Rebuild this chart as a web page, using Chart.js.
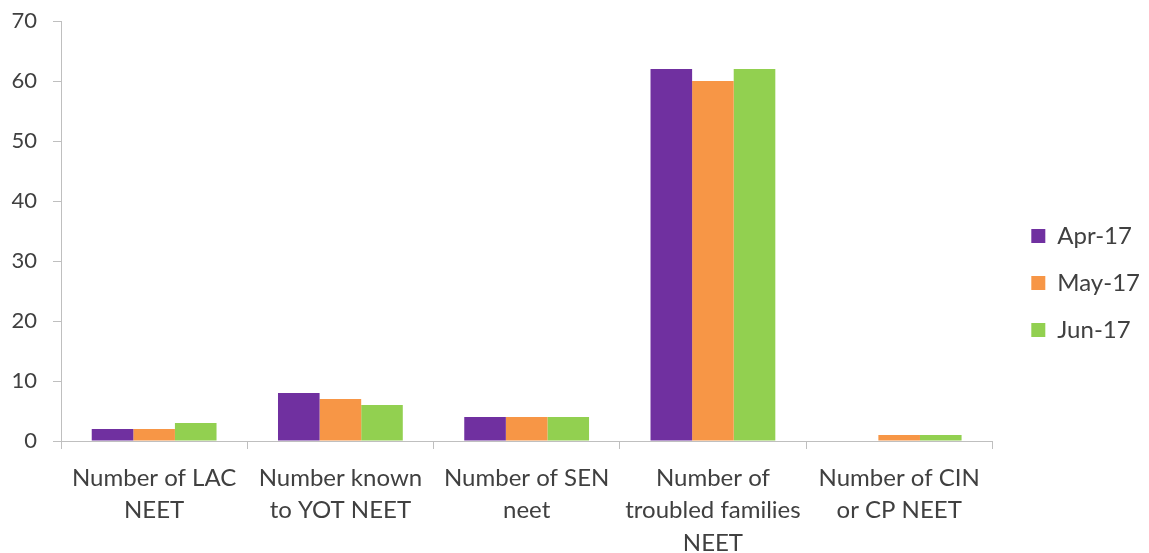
<!DOCTYPE html>
<html>
<head>
<meta charset="utf-8">
<script src="https://cdn.jsdelivr.net/npm/chart.js@4"></script>
<style>
html,body{margin:0;padding:0;background:#fff;}
#wrap{width:1149px;height:553px;}
</style>
</head>
<body>
<div id="wrap"><canvas id="c" width="1149" height="553"></canvas></div>
<script>
const categories = [
  ["Number of LAC", "NEET"],
  ["Number known", "to YOT NEET"],
  ["Number of SEN", "neet"],
  ["Number of", "troubled families", "NEET"],
  ["Number of CIN", "or CP NEET"]
];
const seriesNames = ["Apr-17", "May-17", "Jun-17"];
const apr17 = [2, 8, 4, 62, 0];
const may17 = [2, 7, 4, 60, 1];
const jun17 = [3, 6, 4, 62, 1];
const yTicks = [0, 10, 20, 30, 40, 50, 60, 70];
const colors = ["#7030A0", "#F79646", "#92D050"];

const axisColor = "#BFBFBF";
const textColor = "#404040";
const family = "Lato, 'Open Sans', sans-serif";

const legendGap = {
  id: 'legendGap',
  afterLayout(chart) {
    const lg = chart.legend;
    if (!lg) return;
    const dx = 16;
    lg.left += dx; lg.right += dx;
  }
};

new Chart(document.getElementById('c'), {
  type: 'bar',
  data: {
    labels: categories,
    datasets: [apr17, may17, jun17].map((d, i) => ({
      label: seriesNames[i],
      data: d,
      backgroundColor: colors[i],
      borderWidth: 0,
      categoryPercentage: 0.67,
      barPercentage: 1.0
    }))
  },
  plugins: [legendGap],
  options: {
    responsive: false,
    animation: false,
    devicePixelRatio: 1,
    layout: {padding: {left: 0, right: 15, top: 13, bottom: 0}},
    plugins: {
      legend: {
        position: 'right',
        labels: {
          color: textColor,
          font: {family: family, size: 24},
          boxWidth: 14,
          boxHeight: 14,
          padding: 23
        }
      },
      tooltip: {enabled: false}
    },
    scales: {
      x: {
        afterFit: (s) => { s.height = 112; s.paddingTop = 0; },
        grid: {display: true, drawOnChartArea: false, drawTicks: true, tickLength: 8, color: axisColor, offset: true},
        border: {display: true, color: axisColor, width: 1},
        ticks: {color: textColor, font: {family: family, size: 24, lineHeight: 1.35}, maxRotation: 0, autoSkip: false, padding: 13}
      },
      y: {
        min: 0, max: 70,
        afterBuildTicks: (s) => { s.ticks = yTicks.map(v => ({value: v})); },
        afterFit: (s) => { s.width = 61; s.paddingTop = 21; },
        grid: {display: true, drawOnChartArea: false, drawTicks: true, tickLength: 8, color: axisColor},
        border: {display: true, color: axisColor, width: 1},
        ticks: {color: textColor, font: {family: family, size: 22}, padding: 16}
      }
    }
  }
});
</script>
</body>
</html>
